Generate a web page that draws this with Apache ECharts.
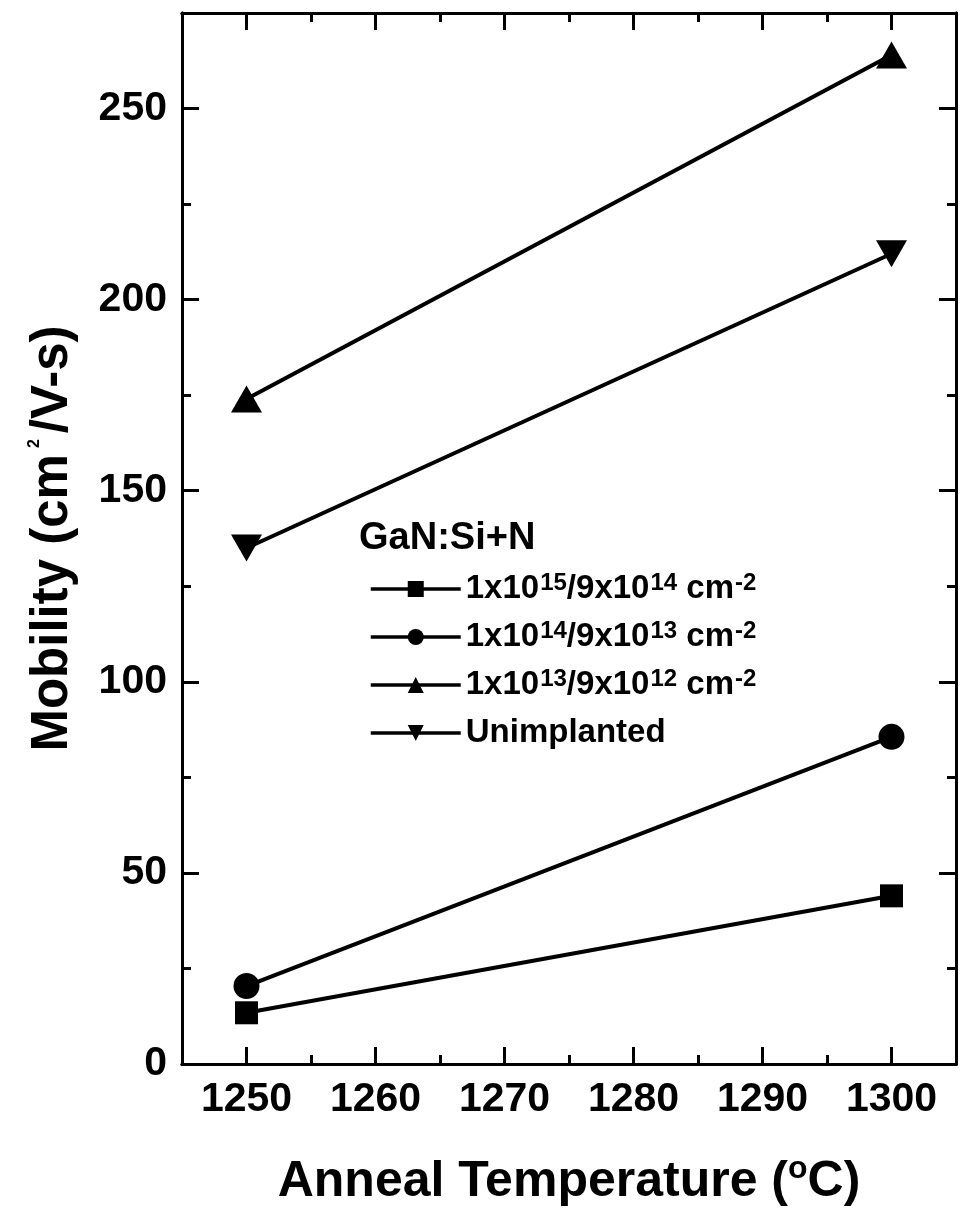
<!DOCTYPE html>
<html><head><meta charset="utf-8">
<script src="https://cdn.jsdelivr.net/npm/echarts@6/dist/echarts.min.js"></script>
<style>html,body{margin:0;padding:0;background:#fff}#c{width:964px;height:1220px}</style>
</head><body><div id="c"></div>
<script>
const temps = [1250, 1300];
const seriesNames = ['1x10^15/9x10^14 cm^-2', '1x10^14/9x10^13 cm^-2', '1x10^13/9x10^12 cm^-2', 'Unimplanted'];
const dose15 = [13.4, 44];
const dose14 = [20.4, 85.6];
const dose13 = [174, 264];
const unimplanted = [135, 212];
const xMajorTicks = [1250, 1260, 1270, 1280, 1290, 1300];
const xMinorTicks = [1255, 1265, 1275, 1285, 1295];
const yMajorTicks = [0, 50, 100, 150, 200, 250];
const yMinorTicks = [25, 75, 125, 175, 225];
const legendTitle = 'GaN:Si+N';

const FF = '"Liberation Sans", Arial, sans-serif';
const chart = echarts.init(document.getElementById('c'));
const blk = '#000';
const common = { type: 'value', splitLine: { show: false } };
function mkAx(pos, min, max, ticks, len, labels, extra) {
  return Object.assign({}, common, {
    position: pos, min: min, max: max,
    axisLine: { show: true, onZero: false, lineStyle: { color: blk, width: 3 } },
    axisTick: { show: true, inside: true, length: len, customValues: ticks, lineStyle: { color: blk, width: 3 } },
    axisLabel: labels ? { show: true, customValues: ticks, formatter: v => String(v), color: blk, fontSize: 41, fontWeight: 'bold', fontFamily: FF, margin: 15 } : { show: false }
  }, extra || {});
}
const xAx = (pos, ticks, len, labels, extra) => mkAx(pos, 1245, 1305, ticks, len, labels, extra);
const yAx = (pos, ticks, len, labels, extra) => mkAx(pos, 0, 275, ticks, len, labels, extra);
const supStyle = { fontSize: 24, fontWeight: 'bold', fontFamily: FF, color: blk, verticalAlign: 'top', padding: [0, 0, 6, 1] };
const data = [dose15, dose14, dose13, unimplanted];
const symbols = ['rect', 'circle', 'triangle', 'triangle'];
const sizes = [23, 26, [31, 27], [31, 27]];
const rots = [0, 0, 0, 180];
chart.setOption({
  animation: false,
  backgroundColor: '#fff',
  grid: { left: 182, right: 8, top: 13, bottom: 156, containLabel: false },
  title: { text: legendTitle, left: 354, top: 515, textStyle: { fontSize: 38, fontWeight: 'bold', fontFamily: FF, color: blk } },
  xAxis: [
    xAx('bottom', xMajorTicks, 17, true, {
      name: 'Anneal Temperature ({s|o}C)', nameLocation: 'middle', nameGap: 89,
      nameTextStyle: { fontSize: 50, fontWeight: 'bold', fontFamily: FF, color: blk,
        rich: { s: { fontSize: 32, fontWeight: 'bold', fontFamily: FF, color: blk, verticalAlign: 'top', padding: [0, 0, 26, 0] } } }
    }),
    xAx('bottom', xMinorTicks, 9, false),
    xAx('top', xMajorTicks, 17, false),
    xAx('top', xMinorTicks, 9, false)
  ],
  yAxis: [
    yAx('left', yMajorTicks, 17, true, {
      name: 'Mobility (cm{s|2}/V-s)', nameLocation: 'middle', nameGap: 104, nameRotate: 90,
      nameTextStyle: { fontSize: 51, fontWeight: 'bold', fontFamily: FF, color: blk,
        rich: { s: { fontSize: 16, fontWeight: 'bold', fontFamily: FF, color: blk, verticalAlign: 'top', padding: [0, 6, 26, 6] } } }
    }),
    yAx('left', yMinorTicks, 9, false),
    yAx('right', yMajorTicks, 17, false),
    yAx('right', yMinorTicks, 9, false)
  ],
  legend: {
    orient: 'vertical', left: 364, top: 566, itemWidth: 90, itemHeight: 20, itemGap: 12,
    data: seriesNames,
    lineStyle: { width: 3.5, color: blk },
    formatter: n => n.replace(/\^(-?\d+)/g, '{s|$1}'),
    textStyle: { fontSize: 33, fontWeight: 'bold', fontFamily: FF, color: blk, lineHeight: 36, rich: { s: supStyle } }
  },
  series: seriesNames.map((n, i) => ({
    name: n, type: 'line', xAxisIndex: 0, yAxisIndex: 0,
    data: temps.map((t, j) => [t, data[i][j]]),
    symbol: symbols[i], symbolSize: sizes[i], symbolRotate: rots[i], showSymbol: true,
    lineStyle: { color: blk, width: 4 }, itemStyle: { color: blk, opacity: 1 },
    emphasis: { disabled: true }
  }))
});
</script></body></html>
